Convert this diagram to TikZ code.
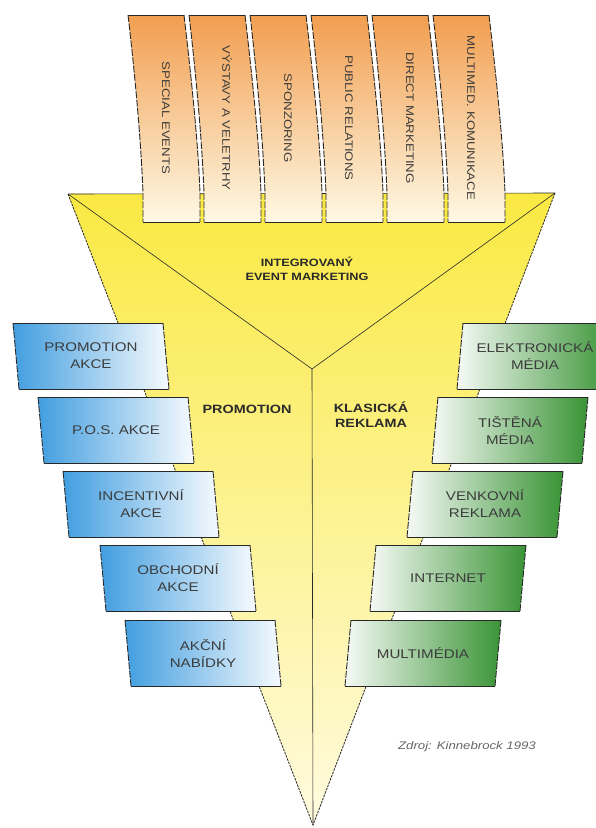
\documentclass[tikz,border=0pt]{standalone}
\usepackage{fontspec}
\setmainfont{Liberation Sans}[FakeStretch=1.2]
\definecolor{fyel}{RGB}{250,233,66}
\definecolor{fpale}{RGB}{255,251,224}
\definecolor{ora}{RGB}{241,158,80}
\definecolor{cream}{RGB}{255,249,228}
\definecolor{bblue}{RGB}{66,158,224}
\definecolor{ggreen}{RGB}{58,148,54}
\definecolor{ink}{RGB}{60,60,60}
\definecolor{edgec}{RGB}{40,40,40}
\tikzset{
  boxline/.style={draw=edgec, line width=0.8pt},
  boxside/.style={draw=edgec, line width=0.9pt, dash pattern=on 7pt off 1.5pt},
  fedge/.style={draw=edgec, line width=0.8pt, dash pattern=on 2.5pt off 1pt},
  vline/.style={draw=edgec, line width=0.6pt},
  toptext/.style={font=\fontsize{11}{13}\selectfont, text=ink, inner sep=0pt},
  sidetext/.style={font=\fontsize{12.6}{17}\selectfont, text=ink, align=center, inner sep=0pt},
  boldlabel/.style={font=\bfseries\fontsize{12}{15}\selectfont, text=ink!70!black, align=center, inner sep=0pt},
  centerlabel/.style={font=\bfseries\fontsize{10.6}{14.5}\selectfont, text=ink!70!black, align=center, inner sep=0pt},
  srctext/.style={font=\itshape\fontsize{11}{13}\selectfont, text=black!60, inner sep=0pt},
  lshade/.style={left color=bblue, middle color=bblue!40!white, right color=white!95!bblue},
  rshade/.style={left color=white!95!ggreen, middle color=ggreen!40!white, right color=ggreen},
}
\begin{document}
\begin{tikzpicture}[x=1pt,y=-1pt]
\useasboundingbox (0,0) rectangle (595,828);
% funnel
\coordinate (FL) at (68,194);
\coordinate (FR) at (555,193);
\coordinate (TIP) at (313,825);
\coordinate (V) at (312,369);
\shade[top color=fyel, middle color=fyel!75!fpale, bottom color=fpale] (FL) -- (FR) -- (TIP) -- cycle;
\draw[vline] (FL) -- (FR);
\draw[vline] (FL) -- (V) -- (FR);
\draw[vline] (V) -- (TIP);
\draw[fedge] (FL) -- (TIP) -- (FR);
% top boxes
\foreach \k/\t in {0/SPECIAL EVENTS,1/VÝSTAVY A VELETRHY,2/SPONZORING,3/PUBLIC RELATIONS,4/DIRECT MARKETING,5/MULTIMED. KOMUNIKACE}{
  \begin{scope}[shift={(61*\k,0)}]
    \shade[top color=ora, middle color=ora!45!cream, bottom color=cream]
      (128,15) -- (184,15) .. controls (191,75) and (198,140) .. (200,193) -- (200,222)
      -- (143,222) -- (143,193) .. controls (141,140) and (135,75) .. (128,15) -- cycle;
    \draw[boxline] (128,15) -- (184,15);
    \draw[boxline] (143,222) -- (200,222);
    \draw[boxside] (184,15) .. controls (191,75) and (198,140) .. (200,193) -- (200,222);
    \draw[boxside] (128,15) .. controls (135,75) and (141,140) .. (143,193) -- (143,222);
    \node[toptext, rotate=-90] (top\k) at (166,118) {\t};
  \end{scope}
}
% left boxes
\foreach \n/\x/\y/\t in {l1/13/323/{PROMOTION\\AKCE},l2/38/397/{P.O.S. AKCE},l3/63/471/{INCENTIVNÍ\\AKCE},l4/100/545/{OBCHODNÍ\\AKCE},l5/125/620/{AKČNÍ\\NABÍDKY}}{
  \shade[lshade] (\x,\y) -- (\x+150,\y) -- (\x+156,\y+66) -- (\x+6,\y+66) -- cycle;
  \draw[boxline] (\x,\y) -- (\x+150,\y);
  \draw[boxline] (\x+6,\y+66) -- (\x+156,\y+66);
  \draw[boxside] (\x,\y) -- (\x+6,\y+66);
  \draw[boxside] (\x+150,\y) -- (\x+156,\y+66);
  \node[sidetext] (\n) at (\x+78,\y+33) {\t};
}
% right boxes
\foreach \n/\x/\y/\t in {r1/13/323/{ELEKTRONICKÁ\\MÉDIA},r2/38/397/{TIŠTĚNÁ\\MÉDIA},r3/63/471/{VENKOVNÍ\\REKLAMA},r4/100/545/{INTERNET},r5/125/620/{MULTIMÉDIA}}{
  \shade[rshade] (626-\x,\y) -- (476-\x,\y) -- (470-\x,\y+66) -- (620-\x,\y+66) -- cycle;
  \draw[boxline] (626-\x,\y) -- (476-\x,\y);
  \draw[boxline] (470-\x,\y+66) -- (620-\x,\y+66);
  \draw[boxside] (476-\x,\y) -- (470-\x,\y+66);
  \draw[boxside] (626-\x,\y) -- (620-\x,\y+66);
  \node[sidetext] (\n) at (548-\x,\y+33) {\t};
}
% labels
\node[centerlabel] (iem) at (307,269) {INTEGROVANÝ\\EVENT MARKETING};
\node[boldlabel] (promo) at (247,409) {PROMOTION};
\node[boldlabel] (klas) at (371,415) {KLASICKÁ\\REKLAMA};
\node[srctext] (src) at (467,747) {Zdroj: Kinnebrock 1993};
\end{tikzpicture}
\end{document}
